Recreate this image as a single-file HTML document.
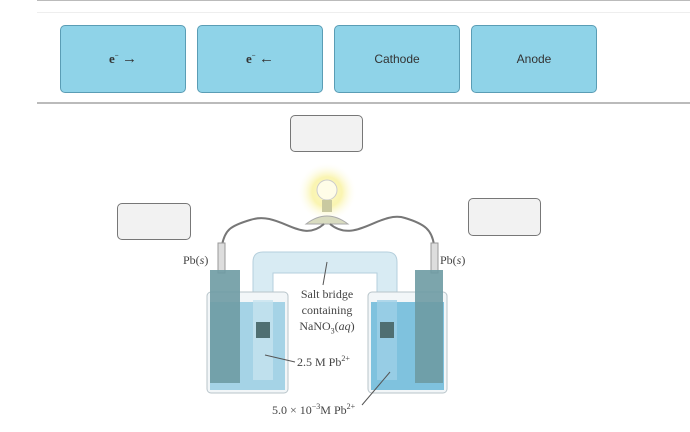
<!DOCTYPE html>
<html><head><style>
body{margin:0;width:690px;height:432px;background:#fff;position:relative;overflow:hidden;font-family:"Liberation Sans",sans-serif}
.btn{position:absolute;top:25px;width:126px;height:68px;background:#8fd3e8;border:1.5px solid #5a9db5;border-radius:5px;box-sizing:border-box;display:flex;align-items:center;justify-content:center;font-size:12px;color:#333}
.box{position:absolute;background:#f2f2f2;border:1.5px solid #777;border-radius:5px;box-sizing:border-box}
.t{position:absolute;font-family:"Liberation Serif",serif;font-size:12px;color:#444;white-space:nowrap}
.e{font-family:"Liberation Serif",serif;font-size:13px;font-weight:bold;color:#333}
.e b{font-weight:normal;font-size:15px}
</style></head><body>
<div style="position:absolute;left:37px;top:0;width:653px;height:1px;background:#bbb"></div>
<div style="position:absolute;left:37px;top:12px;width:653px;height:1px;background:#eee"></div>
<div class="btn" style="left:60px"><span class="e">e<sup style="font-size:7px">−</sup> <b>→</b></span></div>
<div class="btn" style="left:197px"><span class="e">e<sup style="font-size:7px">−</sup> <b>←</b></span></div>
<div class="btn" style="left:334px">Cathode</div>
<div class="btn" style="left:471px">Anode</div>
<div style="position:absolute;left:37px;top:102px;width:653px;height:2px;background:#bbb"></div>
<svg width="690" height="432" style="position:absolute;left:0;top:0">
<defs><radialGradient id="g"><stop offset="0" stop-color="#fffbd0"/><stop offset="0.5" stop-color="#f8f090" stop-opacity=".7"/><stop offset="1" stop-color="#fff" stop-opacity="0"/></radialGradient></defs>
<circle cx="327" cy="192" r="30" fill="url(#g)"/>
<circle cx="327" cy="190" r="10" fill="#fffde8" stroke="#ccc"/>
<rect x="322" y="200" width="10" height="12" fill="#c9c9a0"/>
<path d="M306 224 Q327 208 348 224 Z" fill="#d9dcc0" stroke="#aaa"/>
<path d="M324 224 C300 245 280 210 250 220 C230 226 225 230 222 245" fill="none" stroke="#777" stroke-width="2"/>
<path d="M330 224 C355 245 380 210 405 218 C425 224 432 230 434 245" fill="none" stroke="#777" stroke-width="2"/>
<rect x="218" y="243" width="7" height="30" fill="#ddd" stroke="#999"/>
<rect x="431" y="243" width="7" height="30" fill="#ddd" stroke="#999"/>
<path d="M253 340 V262 Q253 252 263 252 H387 Q397 252 397 262 V340 H377 V273 H273 V340 Z" fill="#d8ebf3" stroke="#b5cfdc"/>
<rect x="207" y="292" width="81" height="101" rx="4" fill="#f2f6f8" stroke="#b8c4ca"/>
<rect x="210" y="302" width="75" height="88" fill="#a5d3e6"/>
<rect x="368" y="292" width="79" height="101" rx="4" fill="#f2f6f8" stroke="#b8c4ca"/>
<rect x="371" y="302" width="73" height="88" fill="#7fc2de"/>
<rect x="253" y="300" width="20" height="80" fill="#c5e3ef" opacity=".8"/>
<rect x="377" y="300" width="20" height="80" fill="#9dd0e6" opacity=".8"/>
<rect x="210" y="270" width="30" height="113" fill="#6e9ba3" opacity=".9"/>
<rect x="415" y="270" width="28" height="113" fill="#6e9ba3" opacity=".9"/>
<rect x="256" y="322" width="14" height="16" fill="#4f6f72"/>
<rect x="380" y="322" width="14" height="16" fill="#4f6f72"/>
<line x1="327" y1="262" x2="323" y2="285" stroke="#555"/>
<line x1="265" y1="355" x2="295" y2="362" stroke="#555"/>
<line x1="390" y1="372" x2="362" y2="405" stroke="#555"/>
</svg>
<div class="box" style="left:290px;top:115px;width:73px;height:37px"></div>
<div class="box" style="left:117px;top:203px;width:74px;height:37px"></div>
<div class="box" style="left:468px;top:198px;width:73px;height:38px"></div>
<div class="t" style="left:183px;top:253px">Pb(<i>s</i>)</div>
<div class="t" style="left:440px;top:253px">Pb(<i>s</i>)</div>
<div class="t" style="left:290px;top:286px;width:74px;text-align:center;line-height:16px">Salt bridge<br>containing<br>NaNO<sub style="font-size:8px">3</sub>(<i>aq</i>)</div>
<div class="t" style="left:297px;top:354px">2.5 M Pb<sup style="font-size:8px">2+</sup></div>
<div class="t" style="left:272px;top:402px">5.0 × 10<sup style="font-size:8px">−3</sup>M Pb<sup style="font-size:8px">2+</sup></div>
</body></html>
